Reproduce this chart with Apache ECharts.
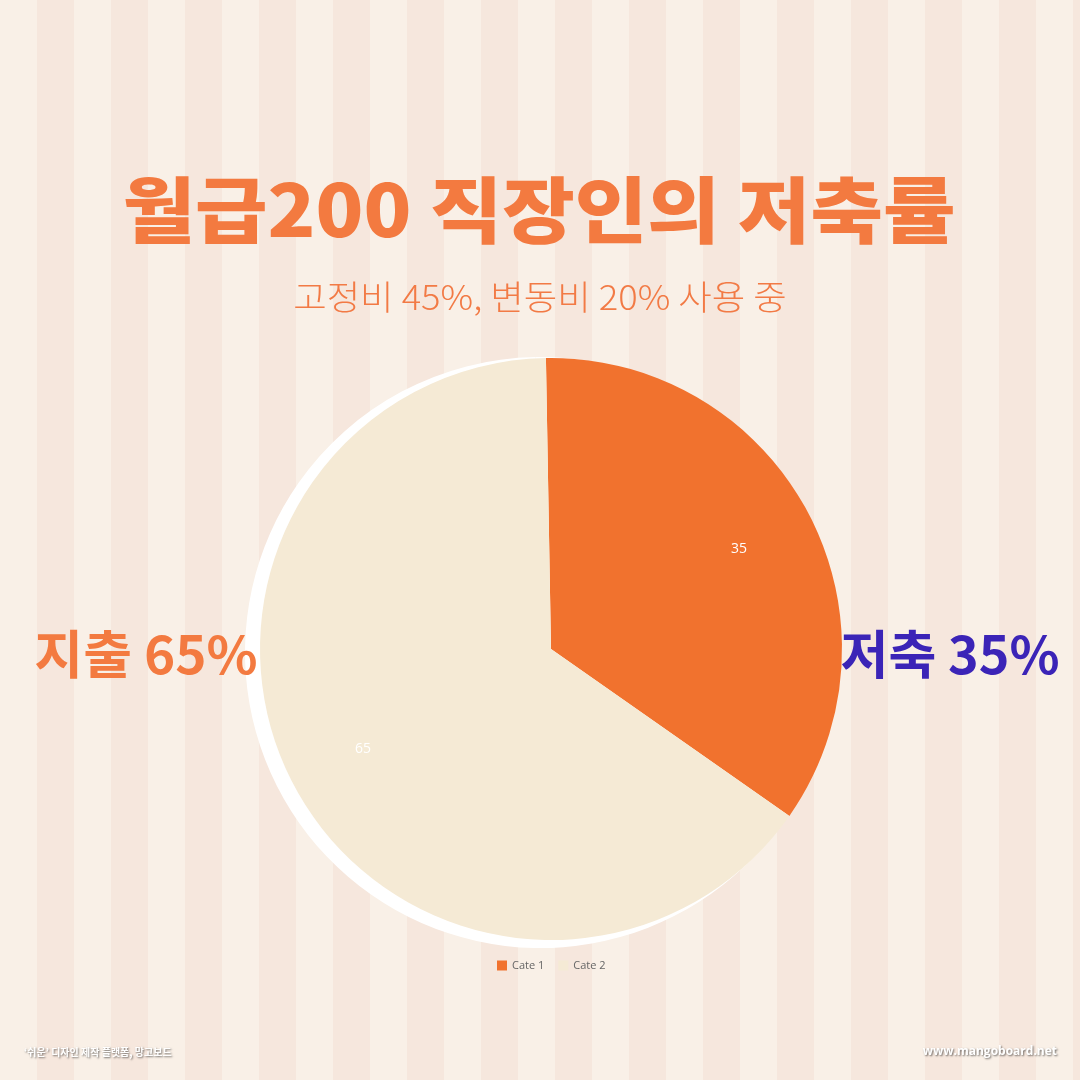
<!DOCTYPE html>
<html>
<head>
<meta charset="utf-8">
<script src="https://cdn.jsdelivr.net/npm/echarts@6/dist/echarts.min.js"></script>
<style>
  html, body { margin: 0; padding: 0; width: 1080px; height: 1080px; overflow: hidden; }
  body { background: repeating-linear-gradient(to right, #F9F0E7 0px, #F9F0E7 37px, #F6E7DD 37px, #F6E7DD 74px); }
  #chart { width: 1080px; height: 1080px; }
</style>
</head>
<body>
<div id="chart"></div>
<script>
const categories = ['Cate 1', 'Cate 2'];
const values = [35, 65];
const sliceColors = ['#F1722E', '#F5EAD5'];
const titleText = '월급200 직장인의 저축률';
const subtitleText = '고정비 45%, 변동비 20% 사용 중';
const leftLabel = '지출 65%';
const rightLabel = '저축 35%';
const footerLeft = '‘쉬운’ 디자인 제작 플랫폼, 망고보드';
const footerRight = 'www.mangoboard.net';

const chart = echarts.init(document.getElementById('chart'), null, { renderer: 'canvas' });

const center = [551, 649];
const R = 291;
const startAngle = 91;

const mainData = categories.map((c, i) => ({ name: c, value: values[i], itemStyle: { color: sliceColors[i] } }));
const plainData = values.map(v => ({ value: v }));

const option = {
  backgroundColor: 'transparent',
  animation: false,
  legend: {
    data: categories,
    left: 492,
    top: 955,
    itemWidth: 10,
    itemHeight: 10,
    itemGap: 14,
    icon: 'rect',
    textStyle: { color: '#666', fontSize: 11, fontFamily: 'Open Sans' }
  },
  graphic: [
    { type: 'text', z: 100, x: 539, y: 210, scaleX: 1.095, style: { text: titleText, fill: '#F37A40', font: '900 72px "Noto Sans CJK KR"', textAlign: 'center', textVerticalAlign: 'middle' } },
    { type: 'text', z: 100, x: 540, y: 297, scaleX: 1.07, style: { text: subtitleText, fill: '#F27A45', font: '300 34px "Noto Sans CJK KR"', textAlign: 'center', textVerticalAlign: 'middle' } },
    { type: 'text', z: 100, x: 146, y: 654, scaleX: 1.02, style: { text: leftLabel, fill: '#F37A40', font: '700 52px "Noto Sans CJK KR"', textAlign: 'center', textVerticalAlign: 'middle' } },
    { type: 'text', z: 100, x: 950, y: 654, style: { text: rightLabel, fill: '#3B24B7', font: '700 52px "Noto Sans CJK KR"', textAlign: 'center', textVerticalAlign: 'middle' } },
    { type: 'text', z: 100, x: 24, y: 1052, style: { text: footerLeft, fill: '#ffffff', font: '700 10px "Noto Sans CJK KR"', textAlign: 'left', textVerticalAlign: 'middle', textShadowColor: 'rgba(0,0,0,0.55)', textShadowBlur: 2, textShadowOffsetX: 1, textShadowOffsetY: 1 } },
    { type: 'text', z: 100, x: 1057, y: 1052, style: { text: footerRight, fill: '#ffffff', font: '700 12px "Open Sans"', textAlign: 'right', textVerticalAlign: 'middle', textShadowColor: 'rgba(0,0,0,0.55)', textShadowBlur: 2, textShadowOffsetX: 1, textShadowOffsetY: 1 } }
  ],
  series: [
    {
      type: 'pie',
      z: 1,
      silent: true,
      center: [center[0] - 10.5, center[1] + 3.5],
      radius: R + 4.5,
      startAngle: startAngle,
      clockwise: true,
      label: { show: false },
      labelLine: { show: false },
      itemStyle: { color: '#ffffff', borderWidth: 0 },
      data: plainData
    },
    {
      type: 'pie',
      z: 2,
      center: center,
      radius: R,
      startAngle: startAngle,
      clockwise: true,
      label: { show: false },
      labelLine: { show: false },
      itemStyle: { borderWidth: 0 },
      emphasis: { disabled: true },
      data: mainData
    },
    {
      type: 'pie',
      z: 3,
      silent: true,
      center: center,
      radius: [129, R],
      startAngle: startAngle,
      clockwise: true,
      itemStyle: { color: 'rgba(0,0,0,0)' },
      label: { show: true, position: 'inside', formatter: '{c}', color: '#ffffff', fontSize: 14, fontFamily: 'Open Sans' },
      labelLine: { show: false },
      data: plainData
    }
  ]
};
chart.setOption(option);
</script>
</body>
</html>
